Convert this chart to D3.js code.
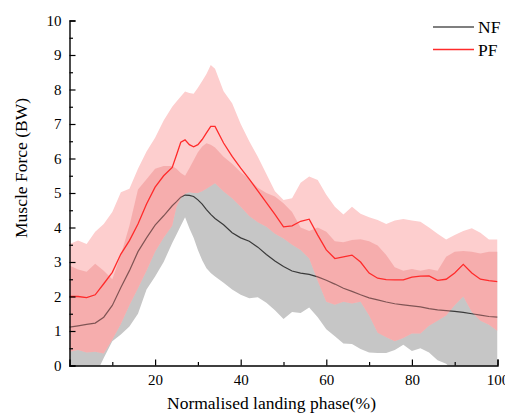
<!DOCTYPE html>
<html>
<head>
<meta charset="utf-8">
<script src="https://cdn.jsdelivr.net/npm/d3@7"></script>
<style>
  body { margin: 0; background: #fff; }
  text { font-family: "Liberation Serif", "Times New Roman", serif; fill: #000; }
</style>
</head>
<body>
<div id="chart"></div>
<script>
// Muscle force over the landing phase, NF vs PF (mean line with band)
const phase = [0,2,4,6,8,10,12,14,16,18,20,22,24,25,26,27,28,29,30,31,32,33,34,36,38,40,42,44,46,48,50,52,54,56,58,60,62,64,66,68,70,72,74,76,78,80,82,84,86,88,90,92,94,96,98,100];

const nfMean = [1.11,1.15,1.19,1.23,1.4,1.74,2.26,2.75,3.3,3.7,4.07,4.34,4.63,4.75,4.88,4.94,4.93,4.9,4.8,4.68,4.52,4.38,4.26,4.08,3.85,3.7,3.6,3.43,3.22,3.03,2.87,2.74,2.68,2.64,2.57,2.47,2.36,2.24,2.15,2.05,1.96,1.9,1.84,1.79,1.76,1.73,1.7,1.65,1.61,1.59,1.57,1.54,1.5,1.46,1.42,1.4];
const nfHi = [2.9,2.78,2.72,2.95,2.75,2.5,3.2,4.05,5.1,5.4,5.7,5.78,5.78,5.7,5.58,5.5,5.72,5.95,6.18,6.35,6.44,6.4,6.32,6.05,5.85,5.6,5.4,5.15,5.0,4.9,4.7,4.45,4.0,3.9,4.0,3.88,3.6,3.57,3.64,3.66,3.6,3.48,3.2,2.85,2.75,2.8,2.75,2.8,2.75,3.15,3.3,3.32,3.3,3.25,3.3,3.3];
const nfLo = [-0.6,-0.6,-0.5,-0.3,0.22,0.7,0.9,1.13,1.5,2.2,2.58,3.0,3.55,3.8,4.05,4.3,3.98,3.7,3.35,3.05,2.82,2.68,2.58,2.4,2.2,2.05,1.95,1.98,1.82,1.6,1.35,1.55,1.52,1.68,1.4,1.05,0.85,0.64,0.62,0.48,0.38,0.36,0.36,0.45,0.6,0.42,0.5,0.38,0.15,0.05,-0.2,-0.4,-0.5,-0.5,-0.5,-0.5];

const pfMean = [2.0,2.0,1.97,2.05,2.37,2.7,3.23,3.62,4.1,4.68,5.17,5.5,5.74,6.1,6.47,6.54,6.4,6.34,6.4,6.55,6.74,6.93,6.93,6.45,6.06,5.72,5.4,5.06,4.72,4.38,4.02,4.05,4.18,4.24,3.78,3.35,3.1,3.15,3.2,3.0,2.68,2.53,2.49,2.48,2.48,2.56,2.59,2.6,2.47,2.5,2.68,2.93,2.68,2.5,2.46,2.43];
const pfHi = [3.52,3.62,3.52,3.88,4.1,4.45,5.02,5.12,5.7,6.2,6.6,7.1,7.5,7.65,7.8,7.94,7.9,7.88,8.05,8.25,8.45,8.71,8.6,7.95,7.6,7.0,6.5,6.05,5.55,5.05,4.8,4.85,5.3,5.48,5.38,4.95,4.6,4.38,4.6,4.4,4.3,4.22,4.1,4.2,4.25,4.2,4.17,4.0,3.82,3.65,3.78,3.9,3.98,3.85,3.65,3.65];
const pfLo = [0.4,0.45,0.38,0.4,0.35,0.75,1.2,1.75,2.24,2.75,3.3,3.7,4.05,4.6,4.85,4.98,5.02,5.0,5.0,5.05,5.12,5.2,5.28,5.04,4.85,4.6,4.33,4.15,4.02,3.82,3.68,3.5,3.35,3.1,2.45,1.85,1.76,1.85,1.8,1.85,1.45,0.95,0.82,0.7,0.8,0.93,0.93,1.15,1.3,1.45,1.75,2.0,1.55,1.3,1.18,1.0];

const xTicks = [20, 40, 60, 80, 100];
const xMinorTicks = [10, 30, 50, 70, 90];
const yTicks = [0,1,2,3,4,5,6,7,8,9,10];
const yMinorTicks = [0.5,1.5,2.5,3.5,4.5,5.5,6.5,7.5,8.5,9.5];
const seriesNames = ["NF", "PF"];

const W = 505, H = 416;
const margin = { top: 20.5, right: 7.5, bottom: 50.5, left: 69.5 };
const width = W - margin.left - margin.right;
const height = H - margin.top - margin.bottom;

const svg = d3.select("#chart").append("svg")
  .attr("width", W).attr("height", H);

const g = svg.append("g")
  .attr("transform", `translate(${margin.left},${margin.top})`);

const x = d3.scaleLinear().domain([0, 100]).range([0, width]);
const y = d3.scaleLinear().domain([0, 10]).range([height, 0]);

const nf = phase.map((p, i) => ({ p, mean: nfMean[i], lo: nfLo[i], hi: nfHi[i] }));
const pf = phase.map((p, i) => ({ p, mean: pfMean[i], lo: pfLo[i], hi: pfHi[i] }));

const band = d3.area().x(d => x(d.p)).y0(d => y(d.lo)).y1(d => y(d.hi));
const line = d3.line().x(d => x(d.p)).y(d => y(d.mean));

const defs = svg.append("defs");
defs.append("clipPath").attr("id", "plot-clip")
  .append("rect").attr("width", width).attr("height", height);
defs.append("clipPath").attr("id", "nf-clip")
  .append("path").attr("d", band(nf));

const plot = g.append("g").attr("clip-path", "url(#plot-clip)");

// NF band (grey), PF band (light pink)
plot.append("path").attr("d", band(nf)).attr("fill", "#c6c6c6");
plot.append("path").attr("d", band(pf)).attr("fill", "#fdcece");

// NF mean line
plot.append("path").attr("d", line(nf))
  .attr("fill", "none").attr("stroke", "#3a3a3a").attr("stroke-width", 1.2);

// overlap of the two bands
plot.append("g").attr("clip-path", "url(#nf-clip)")
  .append("path").attr("d", band(pf))
  .attr("fill", "rgb(236,125,125)").attr("fill-opacity", 0.4);

// PF mean line
plot.append("path").attr("d", line(pf))
  .attr("fill", "none").attr("stroke", "#ff2b2b").attr("stroke-width", 1.3);

// axes, ticks pointing inward
const yMinor = g.append("g")
  .call(d3.axisLeft(y).tickValues(yMinorTicks).tickSize(-3.5).tickFormat(""));
yMinor.select(".domain").remove();
const yAxis = g.append("g")
  .call(d3.axisLeft(y).tickValues(yTicks).tickSize(-6).tickPadding(8).tickFormat(d3.format("d")));

const xMinor = g.append("g").attr("transform", `translate(0,${height})`)
  .call(d3.axisBottom(x).tickValues(xMinorTicks).tickSize(-3.5).tickFormat(""));
xMinor.select(".domain").remove();
const xAxis = g.append("g").attr("transform", `translate(0,${height})`)
  .call(d3.axisBottom(x).tickValues(xTicks).tickSize(-6).tickPadding(9).tickFormat(d3.format("d")));

g.selectAll(".domain").attr("stroke", "#000").attr("stroke-width", 1.4);
g.selectAll(".tick line").attr("stroke", "#000").attr("stroke-width", 1.2);
g.selectAll(".tick text").style("font-family", "'Liberation Serif', serif").style("font-size", "15px").attr("fill", "#000");

// axis titles
svg.append("text")
  .attr("transform", "translate(27,168) rotate(-90)")
  .attr("text-anchor", "middle")
  .style("font-size", "17.5px")
  .text("Muscle Force (BW)");

svg.append("text")
  .attr("x", 271.5).attr("y", 409)
  .attr("text-anchor", "middle")
  .style("font-size", "17.5px")
  .text("Normalised landing phase(%)");

// legend
const legendColors = ["#555", "#ff2b2b"];
const legend = svg.append("g").attr("transform", "translate(433,27)");
seriesNames.forEach((name, i) => {
  const row = legend.append("g").attr("transform", `translate(0,${i * 22.5})`);
  row.append("line").attr("x1", 0).attr("x2", 41).attr("y1", 0).attr("y2", 0)
    .attr("stroke", legendColors[i]).attr("stroke-width", 1.3);
  row.append("text").attr("x", 45).attr("y", 6.3)
    .style("font-size", "17.5px").text(name);
});
</script>
</body>
</html>
